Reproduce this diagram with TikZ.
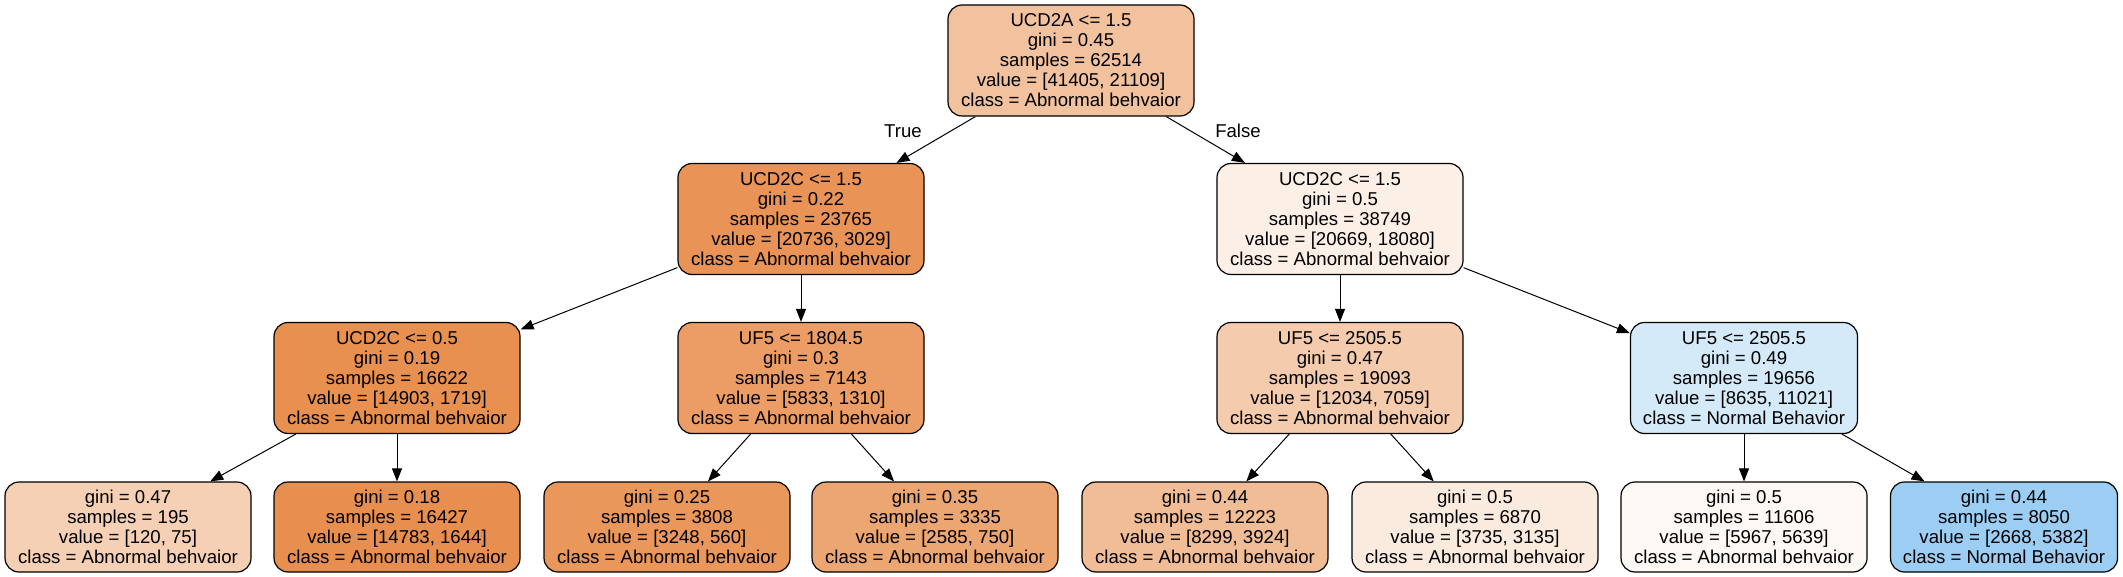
\documentclass[tikz,border=0pt]{standalone}
\usepackage{fontspec}
\setmainfont{Liberation Sans}
\usetikzlibrary{arrows.meta}

% fill colours (orange = Abnormal, blue = Normal)
\definecolor{fRoot}{RGB}{242,193,158}
\definecolor{fA}{RGB}{233,147,86}
\definecolor{fB}{RGB}{252,239,230}
\definecolor{fAA}{RGB}{232,144,80}
\definecolor{fAB}{RGB}{235,157,101}
\definecolor{fBA}{RGB}{244,203,173}
\definecolor{fBB}{RGB}{212,234,249}
\definecolor{fL1}{RGB}{245,208,181}
\definecolor{fL2}{RGB}{232,143,79}
\definecolor{fL3}{RGB}{234,151,91}
\definecolor{fL4}{RGB}{236,166,114}
\definecolor{fL5}{RGB}{241,189,151}
\definecolor{fL6}{RGB}{251,235,223}
\definecolor{fL7}{RGB}{254,248,244}
\definecolor{fL8}{RGB}{155,206,242}

\begin{document}
\begin{tikzpicture}[
  x=0.5pt, y=-0.5pt,
  font=\fontsize{9.3}{10}\selectfont,
  split/.style  = {draw, line width=0.6pt, rectangle, rounded corners=7pt,
                   align=center, inner sep=2pt,
                   minimum width=123pt, minimum height=55.5pt},
  leaf/.style   = {split, minimum height=45pt},
  narrow/.style = {minimum width=113.5pt},
  edge/.style   = {-{Triangle[length=6.5pt,width=5pt]}, line width=0.5pt},
  branch/.style = {inner sep=0pt},
]
\useasboundingbox (0,0) rectangle (2123,577);

% --- root -----------------------------------------------------------------
\node[split, fill=fRoot] (root) at (1071,60.5) {%
  UCD2A <= 1.5\\ gini = 0.45\\ samples = 62514\\
  value = [41405, 21109]\\ class = Abnormal behvaior};

% --- level 1 --------------------------------------------------------------
\node[split, fill=fA] (nA) at (801,219) {%
  UCD2C <= 1.5\\ gini = 0.22\\ samples = 23765\\
  value = [20736, 3029]\\ class = Abnormal behvaior};
\node[split, fill=fB] (nB) at (1340,219) {%
  UCD2C <= 1.5\\ gini = 0.5\\ samples = 38749\\
  value = [20669, 18080]\\ class = Abnormal behvaior};

% --- level 2 --------------------------------------------------------------
\node[split, fill=fAA] (nAA) at (397,378) {%
  UCD2C <= 0.5\\ gini = 0.19\\ samples = 16622\\
  value = [14903, 1719]\\ class = Abnormal behvaior};
\node[split, fill=fAB] (nAB) at (801,378) {%
  UF5 <= 1804.5\\ gini = 0.3\\ samples = 7143\\
  value = [5833, 1310]\\ class = Abnormal behvaior};
\node[split, fill=fBA] (nBA) at (1340,378) {%
  UF5 <= 2505.5\\ gini = 0.47\\ samples = 19093\\
  value = [12034, 7059]\\ class = Abnormal behvaior};
\node[split, narrow, fill=fBB] (nBB) at (1744,378) {%
  UF5 <= 2505.5\\ gini = 0.49\\ samples = 19656\\
  value = [8635, 11021]\\ class = Normal Behavior};

% --- leaves ---------------------------------------------------------------
\node[leaf, fill=fL1] (l1) at (128,527) {%
  gini = 0.47\\ samples = 195\\ value = [120, 75]\\ class = Abnormal behvaior};
\node[leaf, fill=fL2] (l2) at (397,527) {%
  gini = 0.18\\ samples = 16427\\ value = [14783, 1644]\\ class = Abnormal behvaior};
\node[leaf, fill=fL3] (l3) at (667,527) {%
  gini = 0.25\\ samples = 3808\\ value = [3248, 560]\\ class = Abnormal behvaior};
\node[leaf, fill=fL4] (l4) at (935,527) {%
  gini = 0.35\\ samples = 3335\\ value = [2585, 750]\\ class = Abnormal behvaior};
\node[leaf, fill=fL5] (l5) at (1205,527) {%
  gini = 0.44\\ samples = 12223\\ value = [8299, 3924]\\ class = Abnormal behvaior};
\node[leaf, fill=fL6] (l6) at (1475,527) {%
  gini = 0.5\\ samples = 6870\\ value = [3735, 3135]\\ class = Abnormal behvaior};
\node[leaf, fill=fL7] (l7) at (1744,527) {%
  gini = 0.5\\ samples = 11606\\ value = [5967, 5639]\\ class = Abnormal behvaior};
\node[leaf, narrow, fill=fL8] (l8) at (2004,527) {%
  gini = 0.44\\ samples = 8050\\ value = [2668, 5382]\\ class = Normal Behavior};

% --- edges ----------------------------------------------------------------
\draw[edge] (root) -- (nA);
\draw[edge] (root) -- (nB);
\node[branch] (lblT) at (903,131) {True};
\node[branch] (lblF) at (1238,131) {False};

\draw[edge] (nA) -- (nAA);
\draw[edge] (nA) -- (nAB);
\draw[edge] (nB) -- (nBA);
\draw[edge] (nB) -- (nBB);

\draw[edge] (nAA) -- (l1);
\draw[edge] (nAA) -- (l2);
\draw[edge] (nAB) -- (l3);
\draw[edge] (nAB) -- (l4);
\draw[edge] (nBA) -- (l5);
\draw[edge] (nBA) -- (l6);
\draw[edge] (nBB) -- (l7);
\draw[edge] (nBB) -- (l8);

\end{tikzpicture}
\end{document}
